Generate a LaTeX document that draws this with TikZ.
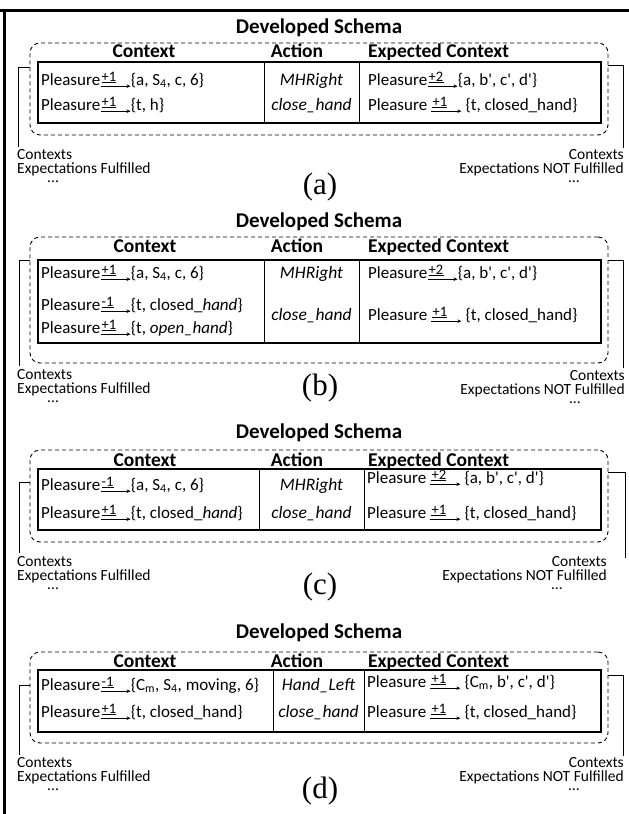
\documentclass[tikz,border=0pt]{standalone}
\usepackage{fontspec}
\setmainfont{Carlito}
\newfontfamily\capfont{Liberation Serif}
\usetikzlibrary{arrows.meta,positioning}

\newcommand{\qt}{\textquotesingle}
% pleasure value over a short arrow
\newcommand{\gain}[1]{\tikz[baseline=0pt]{%
  \node[inner sep=0pt, anchor=base west, font=\fontsize{14.5}{14}\selectfont] (gl) at (1pt,4pt) {#1};
  \draw[line width=0.6pt] ([yshift=-0.9pt]gl.south west) -- ([yshift=-0.9pt]gl.south east);
  \draw[-{Stealth[length=4pt,width=3.5pt]}, line width=0.6pt] (0pt,-1.2pt) -- (30pt,-1.2pt);}}
% trailing dots under the outcome labels
\newcommand{\okdots}{\\[-5pt]\hspace*{30pt}...}
\newcommand{\nokdots}{\\[-5pt]...\hspace*{44pt}}

\tikzset{
  schtitle/.style={font=\fontsize{21}{22}\selectfont\bfseries, inner sep=0pt, anchor=base},
  colhead/.style={font=\fontsize{19.5}{20}\selectfont\bfseries, inner sep=0pt, anchor=base},
  cell/.style={font=\fontsize{17}{20}\selectfont, inner sep=0pt, anchor=base west},
  actcell/.style={font=\fontsize{17.5}{20}\selectfont\itshape, inner sep=0pt, anchor=base},
  dashbox/.style={draw, dash pattern=on 4pt off 3pt, rounded corners=10pt, line width=0.9pt, inner sep=0pt},
  tabbox/.style={draw, line width=1.2pt, inner sep=0pt},
  coldiv/.style={line width=1pt},
  bracket/.style={line width=0.9pt},
  outcome/.style={font=\fontsize{15.5}{14}\selectfont, inner sep=0pt},
  okbox/.style={outcome, align=left, anchor=north west},
  nokbox/.style={outcome, align=right, anchor=north east},
  panel/.style={font=\capfont\fontsize{31}{31}\selectfont, inner sep=0pt},
  frame/.style={line width=3pt}
}

\begin{document}
\begin{tikzpicture}[x=1pt, y=-1pt]
  \useasboundingbox (0,0) rectangle (629,814);
  \draw[frame] (0,10.5) -- (629,10.5);
  \draw[frame] (4.5,9) -- (4.5,814);

  % (a)
  \node[schtitle] (titleA) at (319,33.5) {Developed Schema};
  \node[dashbox, minimum width=578pt, minimum height=92pt] (dashA) at (319,89) {};
  \node[tabbox, minimum width=563pt, minimum height=61pt] (tabA) at (319.5,92.5) {};
  \draw[coldiv] (264,0 |- tabA.north) -- (264,0 |- tabA.south);
  \draw[coldiv] (359,0 |- tabA.north) -- (359,0 |- tabA.south);
  \node[colhead] (hctxA) at (144,57) {Context};
  \node[colhead] (hactA) at (297,57) {Action};
  \node[colhead, anchor=base west] (hexpA) at (368,57) {Expected Context};
  \node[cell] (ctxA1) at (41,85) {Pleasure\gain{+1}\{a, S\textsubscript{4}, c, 6\}};
  \node[cell] (ctxA2) at (41,110) {Pleasure\gain{+1}\{t, h\}};
  \node[actcell] (actA1) at (311.5,85) {MHRight};
  \node[actcell] (actA2) at (311.5,110) {close\_hand};
  \node[cell] (expA1) at (368,85) {Pleasure\gain{+2}\{a, b\qt, c\qt, d\qt\}};
  \node[cell] (expA2) at (368,110) {Pleasure \gain{+1} \{t, closed\_hand\}};
  \coordinate (okA) at (18,147);
  \coordinate (nokA) at (623,148);
  \draw[bracket] (dashA.west |- 0,67) -| (okA);
  \draw[bracket] (dashA.east |- 0,65) -| (nokA);
  \node[okbox] (oktxtA) at (17,149) {Contexts\\Expectations Fulfilled\okdots};
  \node[nokbox] (noktxtA) at (624,149) {Contexts\\Expectations NOT Fulfilled\nokdots};
  \node[panel] (capA) at (320,187) {(a)};

  % (b)
  \node[schtitle] (titleB) at (319,227) {Developed Schema};
  \node[dashbox, minimum width=578pt, minimum height=126pt] (dashB) at (319,300) {};
  \node[tabbox, minimum width=563pt, minimum height=83pt] (tabB) at (319.5,301.5) {};
  \draw[coldiv] (264,0 |- tabB.north) -- (264,0 |- tabB.south);
  \draw[coldiv] (359,0 |- tabB.north) -- (359,0 |- tabB.south);
  \node[colhead] (hctxB) at (145,252) {Context};
  \node[colhead] (hactB) at (297,252) {Action};
  \node[colhead, anchor=base west] (hexpB) at (368,252) {Expected Context};
  \node[cell] (ctxB1) at (41,278) {Pleasure\gain{+1}\{a, S\textsubscript{4}, c, 6\}};
  \node[cell] (ctxB2) at (41,310) {Pleasure\gain{-1}\{t, closed\_\textit{hand}\}};
  \node[cell] (ctxB3) at (41,333) {Pleasure\gain{+1}\{t, \textit{open\_hand}\}};
  \node[actcell] (actB1) at (311.5,278) {MHRight};
  \node[actcell] (actB2) at (311.5,320) {close\_hand};
  \node[cell] (expB1) at (368,278) {Pleasure\gain{+2}\{a, b\qt, c\qt, d\qt\}};
  \node[cell] (expB2) at (368,320) {Pleasure \gain{+1} \{t, closed\_hand\}};
  \coordinate (okB) at (19,366);
  \coordinate (nokB) at (623,368);
  \draw[bracket] (dashB.west |- 0,260) -| (okB);
  \draw[bracket] (dashB.east |- 0,260) -| (nokB);
  \node[okbox] (oktxtB) at (17,369) {Contexts\\Expectations Fulfilled\okdots};
  \node[nokbox] (noktxtB) at (625,370) {Contexts\\Expectations NOT Fulfilled\nokdots};
  \node[panel] (capB) at (320,388) {(b)};

  % (c)
  \node[schtitle] (titleC) at (319,438.5) {Developed Schema};
  \node[dashbox, minimum width=578pt, minimum height=92pt] (dashC) at (319,496) {};
  \node[tabbox, minimum width=563pt, minimum height=61pt] (tabC) at (319.5,499.5) {};
  \draw[coldiv] (259,0 |- tabC.north) -- (259,0 |- tabC.south);
  \draw[coldiv] (364,0 |- tabC.north) -- (364,0 |- tabC.south);
  \node[colhead] (hctxC) at (145,466) {Context};
  \node[colhead] (hactC) at (297,466) {Action};
  \node[colhead, anchor=base west] (hexpC) at (368,466) {Expected Context};
  \node[cell] (ctxC1) at (41,490) {Pleasure\gain{-1}\{a, S\textsubscript{4}, c, 6\}};
  \node[cell] (ctxC2) at (41,518) {Pleasure\gain{+1}\{t, closed\_\textit{hand}\}};
  \node[actcell] (actC1) at (311.5,490) {MHRight};
  \node[actcell] (actC2) at (311.5,518) {close\_hand};
  \node[cell] (expC1) at (367,483) {Pleasure \gain{+2} \{a, b\qt, c\qt, d\qt\}};
  \node[cell] (expC2) at (367,518) {Pleasure \gain{+1} \{t, closed\_hand\}};
  \coordinate (okC) at (19,553);
  \coordinate (nokC) at (625,558);
  \draw[bracket] (dashC.west |- 0,482) -| (okC);
  \draw[bracket] (dashC.east |- 0,472) -| (nokC);
  \node[okbox] (oktxtC) at (17,556) {Contexts\\Expectations Fulfilled\okdots};
  \node[nokbox] (noktxtC) at (607,556) {Contexts\\Expectations NOT Fulfilled\nokdots};
  \node[panel] (capC) at (320,587) {(c)};

  % (d)
  \node[schtitle] (titleD) at (319,638.5) {Developed Schema};
  \node[dashbox, minimum width=578pt, minimum height=91pt] (dashD) at (319,697.5) {};
  \node[tabbox, minimum width=563pt, minimum height=62pt] (tabD) at (319.5,701) {};
  \draw[coldiv] (273,0 |- tabD.north) -- (273,0 |- tabD.south);
  \draw[coldiv] (364,0 |- tabD.north) -- (364,0 |- tabD.south);
  \node[colhead] (hctxD) at (145,667) {Context};
  \node[colhead] (hactD) at (297,667) {Action};
  \node[colhead, anchor=base west] (hexpD) at (368,667) {Expected Context};
  \node[cell] (ctxD1) at (41,690) {Pleasure\gain{-1}\{C\textsubscript{m}, S\textsubscript{4}, moving, 6\}};
  \node[cell] (ctxD2) at (41,717) {Pleasure\gain{+1}\{t, closed\_hand\}};
  \node[actcell] (actD1) at (318.5,690) {Hand\_Left};
  \node[actcell] (actD2) at (318.5,717) {close\_hand};
  \node[cell] (expD1) at (367,687) {Pleasure \gain{+1} \{C\textsubscript{m}, b\qt, c\qt, d\qt\}};
  \node[cell] (expD2) at (367,717) {Pleasure \gain{+1} \{t, closed\_hand\}};
  \coordinate (okD) at (19,755);
  \coordinate (nokD) at (623,756);
  \draw[bracket] (dashD.west |- 0,685) -| (okD);
  \draw[bracket] (dashD.east |- 0,675) -| (nokD);
  \node[okbox] (oktxtD) at (17,757) {Contexts\\Expectations Fulfilled\okdots};
  \node[nokbox] (noktxtD) at (624,757) {Contexts\\Expectations NOT Fulfilled\nokdots};
  \node[panel] (capD) at (320,791) {(d)};
\end{tikzpicture}
\end{document}
